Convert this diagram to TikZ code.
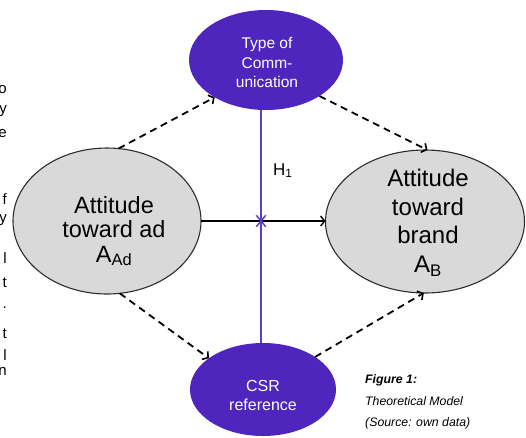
\documentclass[tikz,border=0pt]{standalone}
\usepackage{fontspec}
\setmainfont{Liberation Sans}
\usetikzlibrary{shapes.geometric,shapes.misc,arrows.meta}
\definecolor{cpurple}{RGB}{78,38,190}
\definecolor{cline}{RGB}{92,62,204}
\definecolor{cgray}{RGB}{217,217,217}
\definecolor{cedge}{RGB}{45,45,45}
\begin{document}
\begin{tikzpicture}[x=1pt,y=-1pt,
  pell/.style={ellipse, fill=cpurple, draw=none, inner sep=0pt, outer sep=0pt},
  gell/.style={ellipse, fill=cgray, draw=cedge, line width=1.1pt, inner sep=0pt, outer sep=0pt},
  dasharrow/.style={draw=black, line width=1.8pt, dash pattern=on 7pt off 5pt,
    -{Straight Barb[length=4pt,width=10pt,line width=1.6pt]}},
  solidarrow/.style={draw=black, line width=1.5pt,
    -{Straight Barb[length=4pt,width=10pt,line width=1.4pt]}},
  wtext/.style={text=white, align=center, inner sep=0pt, anchor=north},
  btext/.style={text=black, align=center, inner sep=0pt, anchor=north},
  frag/.style={anchor=base east, inner sep=0pt, font=\fontsize{15}{16}\selectfont}
]
\useasboundingbox (0,0) rectangle (526,437);

% ellipses
\node[pell, minimum width=154pt, minimum height=100pt] (top) at (266,60) {};
\node[pell, minimum width=146pt, minimum height=93pt] (bot) at (263,389.5) {};
\node[gell, minimum width=188pt, minimum height=146pt] (la) at (107,221) {};
\node[gell, minimum width=199pt, minimum height=143pt] (ra) at (425,221.5) {};

% texts in ellipses
\node[wtext, font=\fontsize{15.5}{19.7}\selectfont] (toptext) at (267,37) {Type of\\Comm-\\unication};
\node[wtext, font=\fontsize{16}{19}\selectfont] (bottext) at (263,380) {CSR\\reference};
\node[btext, font=\fontsize{23.5}{24.5}\selectfont] (latext) at (114,196) {Attitude\\toward ad\\A\textsubscript{Ad}};
\node[btext, font=\fontsize{24}{28.7}\selectfont] (ratext) at (428,169) {Attitude\\toward\\brand\\A\textsubscript{B}};

% vertical purple line and cross
\coordinate (cross) at (261,221);
\draw[cline, line width=1.5pt] (top.south -| cross) -- (bot.north -| cross);

% horizontal arrow
\draw[solidarrow] (la.east) -- (la.east -| ra.west);
\node[draw=cline, cross out, line width=1.5pt, minimum width=8pt, minimum height=10pt, inner sep=0pt] (xmark) at (cross) {};

% dashed arrows
\draw[dasharrow] (la.81) -- (top.216);
\draw[dasharrow] (top.326) -- (ra.88);
\draw[dasharrow] (la.280) -- (bot.150);
\draw[dasharrow] (bot.32) -- (ra.269);

% H1 label
\node[anchor=base west, inner sep=0pt, font=\fontsize{17}{20}\selectfont] (h1) at (273,175) {H\textsubscript{1}};

% caption
\node[anchor=north west, inner sep=0pt, align=left, font=\fontsize{12.3}{21.7}\selectfont\itshape] (cap) at (365,374.2)
  {\textbf{Figure 1:}\\Theoretical Model\\(Source: own data)};

% cut-off letters of neighbouring text
\node[frag] (f1) at (7,93) {o};
\node[frag] (f2) at (7,113) {y};
\node[frag] (f3) at (7,137) {e};
\node[frag] (f4) at (7,204) {f};
\node[frag] (f5) at (7,222) {y};
\node[frag] (f6) at (7,263) {l};
\node[frag] (f7) at (7,287) {t};
\node[frag] (f8) at (7,308) {.};
\node[frag] (f9) at (7,338) {t};
\node[frag] (f10) at (7,360) {l};
\node[frag] (f11) at (7,375) {n};
\end{tikzpicture}
\end{document}
